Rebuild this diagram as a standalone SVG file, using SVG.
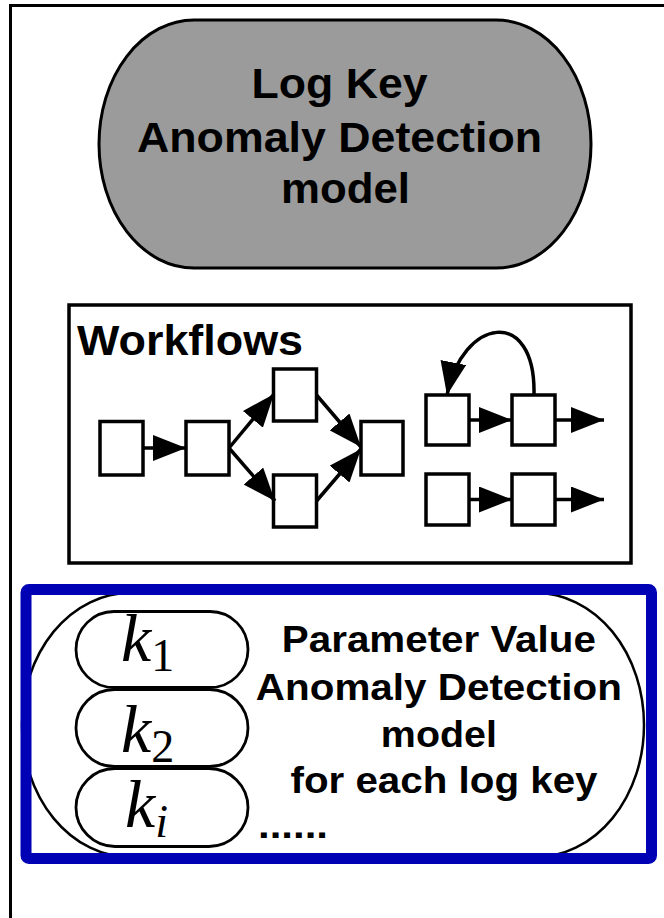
<svg xmlns="http://www.w3.org/2000/svg" width="664" height="918" viewBox="0 0 664 918">
  <style>
    .frame { fill: none; stroke: #000; stroke-width: 3; }
    .box { fill: #fff; stroke: #000; stroke-width: 3.5; }
    .edge { fill: none; stroke: #000; stroke-width: 3.5; }
    .bold { font-family: "Liberation Sans", Arial, Helvetica, sans-serif; font-weight: bold; fill: #000; }
    .math { font-family: "Liberation Serif", "Times New Roman", serif; font-style: italic; fill: #000; }
    .keybox { fill: #fff; stroke: #000; stroke-width: 2.8; }
  </style>
  <defs>
    <marker id="arrow" viewBox="0 0 33 26" refX="33" refY="13" markerWidth="33" markerHeight="26" markerUnits="userSpaceOnUse" orient="auto">
      <path d="M0,0 L33,13 L0,26 Z" fill="#000"/>
    </marker>
  </defs>

  <rect width="664" height="918" fill="#fff"/>

  <!-- outer frame (top and left edges) -->
  <path class="frame" d="M10.5,918 V5.5 H664"/>

  <!-- log key model -->
  <g id="logkey-model">
    <rect x="99" y="20" width="492" height="248" rx="95" ry="124" fill="#9b9b9b" stroke="#000" stroke-width="3"/>
    <text class="bold" font-size="43" text-anchor="middle">
      <tspan x="345.5" y="98" textLength="176" lengthAdjust="spacingAndGlyphs">Log Key</tspan>
      <tspan x="345.5" y="152" textLength="405" lengthAdjust="spacingAndGlyphs">Anomaly Detection</tspan>
      <tspan x="345.5" y="203" textLength="129" lengthAdjust="spacingAndGlyphs">model</tspan>
    </text>
  </g>

  <!-- workflows panel -->
  <g id="workflows">
    <rect class="box" x="69" y="305" width="562" height="258"/>
    <text class="bold" x="77" y="355" font-size="42" textLength="226" lengthAdjust="spacingAndGlyphs">Workflows</text>
  </g>

  <g id="wf-nodes">
    <rect id="w1" class="box" x="100" y="421.5" width="43" height="53.5"/>
    <rect id="w2" class="box" x="186" y="421.5" width="43" height="53.5"/>
    <rect id="w3" class="box" x="273.5" y="369" width="43" height="52"/>
    <rect id="w4" class="box" x="273.5" y="475" width="43" height="52"/>
    <rect id="w5" class="box" x="361" y="421.5" width="42" height="53.5"/>
    <rect id="w6" class="box" x="426" y="395" width="43" height="50"/>
    <rect id="w7" class="box" x="512" y="395" width="43" height="50"/>
    <rect id="w8" class="box" x="426" y="474" width="43" height="51"/>
    <rect id="w9" class="box" x="512" y="474" width="43" height="51"/>
  </g>

  <g id="wf-edges">
    <path class="edge" d="M143,448 L186,448" marker-end="url(#arrow)"/>
    <path class="edge" d="M229,448 L274,394" marker-end="url(#arrow)"/>
    <path class="edge" d="M229,448 L275,501" marker-end="url(#arrow)"/>
    <path class="edge" d="M316.5,395 L361,447" marker-end="url(#arrow)"/>
    <path class="edge" d="M316.5,501 L361,449" marker-end="url(#arrow)"/>
    <path class="edge" d="M469,420 L512,420" marker-end="url(#arrow)"/>
    <path class="edge" d="M555,420 L604,420" marker-end="url(#arrow)"/>
    <path class="edge" d="M469,499.5 L512,499.5" marker-end="url(#arrow)"/>
    <path class="edge" d="M555,499.5 L604,499.5" marker-end="url(#arrow)"/>
    <path class="edge" d="M534,395 C536,305 462,318 447,395" marker-end="url(#arrow)"/>
  </g>

  <!-- parameter value model -->
  <g id="param-model">
    <rect x="22" y="593" width="622" height="264" rx="108" ry="132" fill="#fff" stroke="#000" stroke-width="2.5"/>
    <text class="bold" font-size="37" text-anchor="middle">
      <tspan x="444" y="652" textLength="314" lengthAdjust="spacingAndGlyphs">Parameter Value</tspan>
      <tspan x="444" y="700" textLength="366" lengthAdjust="spacingAndGlyphs">Anomaly Detection</tspan>
      <tspan x="444" y="747" textLength="116" lengthAdjust="spacingAndGlyphs">model</tspan>
      <tspan x="444" y="793" textLength="307" lengthAdjust="spacingAndGlyphs">for each log key</tspan>
    </text>
    <text class="bold" x="258" y="838" font-size="37" textLength="70" lengthAdjust="spacingAndGlyphs">......</text>
  </g>

  <g id="key-1">
    <rect class="keybox" x="76" y="611.5" width="172" height="76" rx="38" ry="38"/>
    <text class="math" x="121" y="661" font-size="68">k<tspan font-style="normal" font-size="46" y="671">1</tspan></text>
  </g>
  <g id="key-2">
    <rect class="keybox" x="76" y="689.5" width="172" height="77" rx="38.5" ry="38.5"/>
    <text class="math" x="121" y="752" font-size="68">k<tspan font-style="normal" font-size="46" y="762">2</tspan></text>
  </g>
  <g id="key-i">
    <rect class="keybox" x="76" y="768.5" width="172" height="78" rx="39" ry="39"/>
    <text class="math" x="125" y="827" font-size="68">k<tspan font-size="46" y="837">i</tspan></text>
  </g>

  <!-- highlight border around the parameter model -->
  <rect id="highlight" x="26" y="589.5" width="625.5" height="269" rx="3" fill="none" stroke="#0000b4" stroke-width="11"/>
</svg>
